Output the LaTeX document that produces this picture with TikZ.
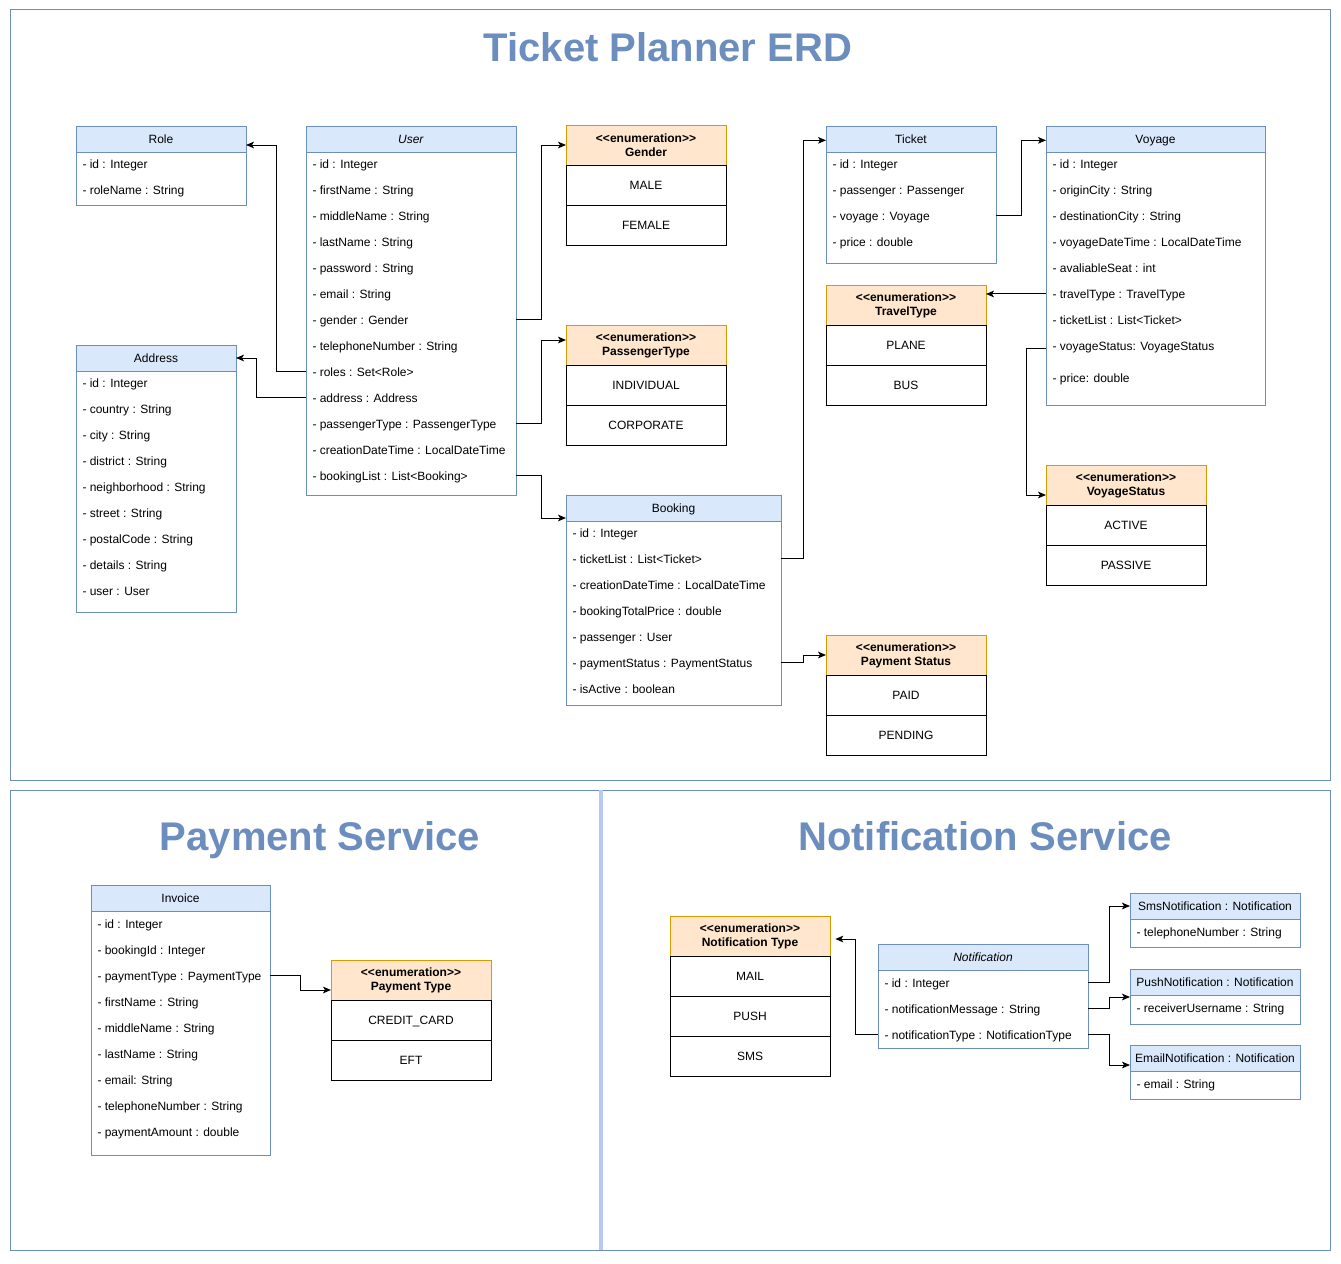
\documentclass[tikz,border=0pt]{standalone}
\usepackage{fontspec}
\setmainfont{Liberation Sans}
\usetikzlibrary{arrows.meta}

\definecolor{frameblue}{HTML}{6C8EBF}
\definecolor{headblue}{HTML}{DAE8FC}
\definecolor{headorange}{HTML}{FFE6CC}
\definecolor{edgeorange}{HTML}{D79B00}
\definecolor{splitblue}{HTML}{B8C9F5}

\tikzset{
  classbody/.style={draw=frameblue, fill=white, anchor=north west, inner sep=0pt, outer sep=0pt},
  classhead/.style={draw=frameblue, fill=headblue, anchor=north west, inner sep=0pt, outer sep=0pt,
    minimum height=19.5pt, text height=6.5pt, text depth=0pt, font=\fontsize{9}{11}\selectfont},
  enumhead/.style={draw=edgeorange, fill=headorange, anchor=north west, inner sep=0pt, outer sep=0pt,
    minimum width=120pt, minimum height=30pt, align=center, font=\fontsize{9}{10.5}\selectfont\bfseries},
  enumrow/.style={draw=black, fill=white, anchor=north west, inner sep=0pt, outer sep=0pt,
    minimum width=120pt, minimum height=30pt, text height=6.5pt, text depth=0pt,
    font=\fontsize{9}{11}\selectfont},
  attr/.style={anchor=base west, inner sep=0pt, font=\fontsize{9}{11}\selectfont},
  bigtitle/.style={anchor=base, text=frameblue, font=\fontsize{30}{36}\selectfont\bfseries},
  conn/.style={->},
}

% #1 name, #2 x, #3 y, #4 width, #5 height, #6 title
\newcommand{\umlclass}[6]{%
  \node[classbody, minimum width={#4*0.75pt}, minimum height={#5*0.75pt}] (#1) at (#2,#3) {};
  \node[classhead, minimum width={#4*0.75pt}] (#1-head) at (#2,#3) {#6};
}
% #1 class, #2 x, #3 y of first row, #4 key/text list
\newcommand{\umlattrs}[4]{%
  \foreach \attrkey/\attrtext [count=\i from 0] in {#4}
    \node[attr] (#1-\attrkey) at ({#2+6},{#3+4.5+26*\i}) {\attrtext};
}
% #1 name, #2 x, #3 y, #4 title, #5 values
\newcommand{\umlenum}[5]{%
  \node[enumhead] (#1) at (#2,#3) {<{}<enumeration>{}>\\#4};
  \foreach \enumval [count=\i] in {#5}
    \node[enumrow] (#1-\i) at (#2,{#3+40*\i}) {\enumval};
}

\begin{document}
\begin{tikzpicture}[x=0.75pt, y=-0.75pt, line width=0.75pt,
    >={Stealth[length=6pt,width=5pt,inset=1.5pt]}]
    \path[fill=white] (0,0) rectangle (1341,1263);

    \draw[frameblue] (10,10) rectangle (1330,780);
    \draw[frameblue] (10,790) rectangle (1330,1250);
    \draw[splitblue, line width=3pt] (601,790) -- (601,1250);

    \node[bigtitle] (erd-title) at (668,61) {Ticket Planner ERD};
    \node[bigtitle] (payment-title) at (320,850) {Payment Service};
    \node[bigtitle] (notification-title) at (985,850) {Notification Service};

    \umlclass{role}{76}{126}{170}{79}{Role}
    \umlattrs{role}{76}{164}{id/{- id : Integer}, roleName/{- roleName : String}}

    \umlclass{user}{306}{126}{210}{369}{\textit{User}}
    \umlattrs{user}{306}{164}{id/{- id : Integer}, firstName/{- firstName : String},
      middleName/{- middleName : String}, lastName/{- lastName : String},
      password/{- password : String}, email/{- email : String}, gender/{- gender : Gender},
      telephoneNumber/{- telephoneNumber : String}, roles/{- roles : Set<Role>},
      address/{- address : Address}, passengerType/{- passengerType : PassengerType},
      creationDateTime/{- creationDateTime : LocalDateTime}, bookingList/{- bookingList : List<Booking>}}

    \umlclass{address}{76}{345}{160}{267}{Address}
    \umlattrs{address}{76}{383}{id/{- id : Integer}, country/{- country : String},
      city/{- city : String}, district/{- district : String},
      neighborhood/{- neighborhood : String}, street/{- street : String},
      postalCode/{- postalCode : String}, details/{- details : String}, user/{- user : User}}

    \umlenum{gender}{566}{125}{Gender}{MALE, FEMALE}
    \umlenum{passengertype}{566}{325}{PassengerType}{INDIVIDUAL, CORPORATE}

    \umlclass{booking}{566}{495}{215}{210}{Booking}
    \umlattrs{booking}{566}{533}{id/{- id : Integer}, ticketList/{- ticketList : List<Ticket>},
      creationDateTime/{- creationDateTime : LocalDateTime},
      bookingTotalPrice/{- bookingTotalPrice : double}, passenger/{- passenger : User},
      paymentStatus/{- paymentStatus : PaymentStatus}, isActive/{- isActive : boolean}}

    \umlclass{ticket}{826}{126}{170}{137}{Ticket}
    \umlattrs{ticket}{826}{164}{id/{- id : Integer}, passenger/{- passenger : Passenger},
      voyage/{- voyage : Voyage}, price/{- price : double}}

    \umlenum{traveltype}{826}{285}{TravelType}{PLANE, BUS}
    \umlenum{paymentstatus}{826}{635}{Payment Status}{PAID, PENDING}

    \umlclass{voyage}{1046}{126}{219}{279}{Voyage}
    \umlattrs{voyage}{1046}{164}{id/{- id : Integer}, originCity/{- originCity : String},
      destinationCity/{- destinationCity : String},
      voyageDateTime/{- voyageDateTime : LocalDateTime}, avaliableSeat/{- avaliableSeat : int},
      travelType/{- travelType : TravelType}, ticketList/{- ticketList : List<Ticket>},
      voyageStatus/{- voyageStatus: VoyageStatus}}
    \node[attr] (voyage-price) at (1052,382.5) {- price: double};

    \umlenum{voyagestatus}{1046}{465}{VoyageStatus}{ACTIVE, PASSIVE}

    \umlclass{invoice}{91}{885}{179}{270}{Invoice}
    \umlattrs{invoice}{91}{924}{id/{- id : Integer}, bookingId/{- bookingId : Integer},
      paymentType/{- paymentType : PaymentType}, firstName/{- firstName : String},
      middleName/{- middleName : String}, lastName/{- lastName : String},
      email/{- email: String}, telephoneNumber/{- telephoneNumber : String},
      paymentAmount/{- paymentAmount : double}}

    \umlenum{paymenttype}{331}{960}{Payment Type}{CREDIT\_CARD, EFT}

    \umlenum{notificationtype}{670}{916}{Notification Type}{MAIL, PUSH, SMS}

    \umlclass{notification}{878}{944}{210}{104}{\textit{Notification}}
    \umlattrs{notification}{878}{983}{id/{- id : Integer},
      notificationMessage/{- notificationMessage : String},
      notificationType/{- notificationType : NotificationType}}

    \umlclass{smsnotif}{1130}{893}{170}{54}{SmsNotification : Notification}
    \umlattrs{smsnotif}{1130}{932}{telephoneNumber/{- telephoneNumber : String}}
    \umlclass{pushnotif}{1130}{969}{170}{55}{PushNotification : Notification}
    \umlattrs{pushnotif}{1130}{1008}{receiverUsername/{- receiverUsername : String}}
    \umlclass{emailnotif}{1130}{1045}{170}{54}{EmailNotification : Notification}
    \umlattrs{emailnotif}{1130}{1084}{email/{- email : String}}

    \draw[conn] ([yshift=3.4pt]user-roles.base -| user.west) -- ++(-30,0) |- ([yshift=-4.5pt]role-head.east);
    \draw[conn] ([yshift=3.4pt]user-address.base -| user.west) -- ++(-50,0) |- (address-head.east);
    \draw[conn] ([yshift=3.4pt]user-gender.base -| user.east) -- ++(25,0) |- (gender.west);
    \draw[conn] ([yshift=3.4pt]user-passengerType.base -| user.east) -- ++(25,0) |- ([yshift=3.75pt]passengertype.west);
    \draw[conn] ([yshift=3.4pt]user-bookingList.base -| user.east) -- ++(25,0) |- ([yshift=-7.5pt]booking-head.west);
    \draw[conn] ([yshift=3.4pt]booking-ticketList.base -| booking.east) -- ++(22,0) |- ([yshift=-1pt]ticket-head.west);
    \draw[conn] ([yshift=3.4pt]booking-paymentStatus.base -| booking.east) -- ++(22,0) |- (paymentstatus.west);
    \draw[conn] ([yshift=3.4pt]ticket-voyage.base -| ticket.east) -- ++(25,0) |- ([yshift=-1pt]voyage-head.west);
    \draw[conn] ([yshift=3.4pt]voyage-travelType.base -| voyage.west) -- ([yshift=3.4pt]voyage-travelType.base -| traveltype.east);
    \draw[conn] ([yshift=1.2pt]voyage-voyageStatus.base -| voyage.west) -- ++(-20,0) |- ([yshift=-7.5pt]voyagestatus.west);
    \draw[conn] ([yshift=3.4pt]invoice-paymentType.base -| invoice.east) -- ++(30,0) |- ([yshift=-7.5pt]paymenttype.west);
    \draw[conn, shorten >=4pt] ([yshift=3.4pt]notification-notificationType.base -| notification.west) -- ++(-23,0)
        |- ([yshift=-2.25pt]notificationtype.east);
    \draw[conn] ([yshift=3.4pt]notification-id.base -| notification.east) -- ++(21,0) |- (smsnotif-head.west);
    \draw[conn] ([yshift=3.4pt]notification-notificationMessage.base -| notification.east) -- ++(21,0)
        |- ([yshift=-11.25pt]pushnotif-head.west);
    \draw[conn] ([yshift=3.4pt]notification-notificationType.base -| notification.east) -- ++(21,0)
        |- ([yshift=-5.25pt]emailnotif-head.west);
\end{tikzpicture}
\end{document}
